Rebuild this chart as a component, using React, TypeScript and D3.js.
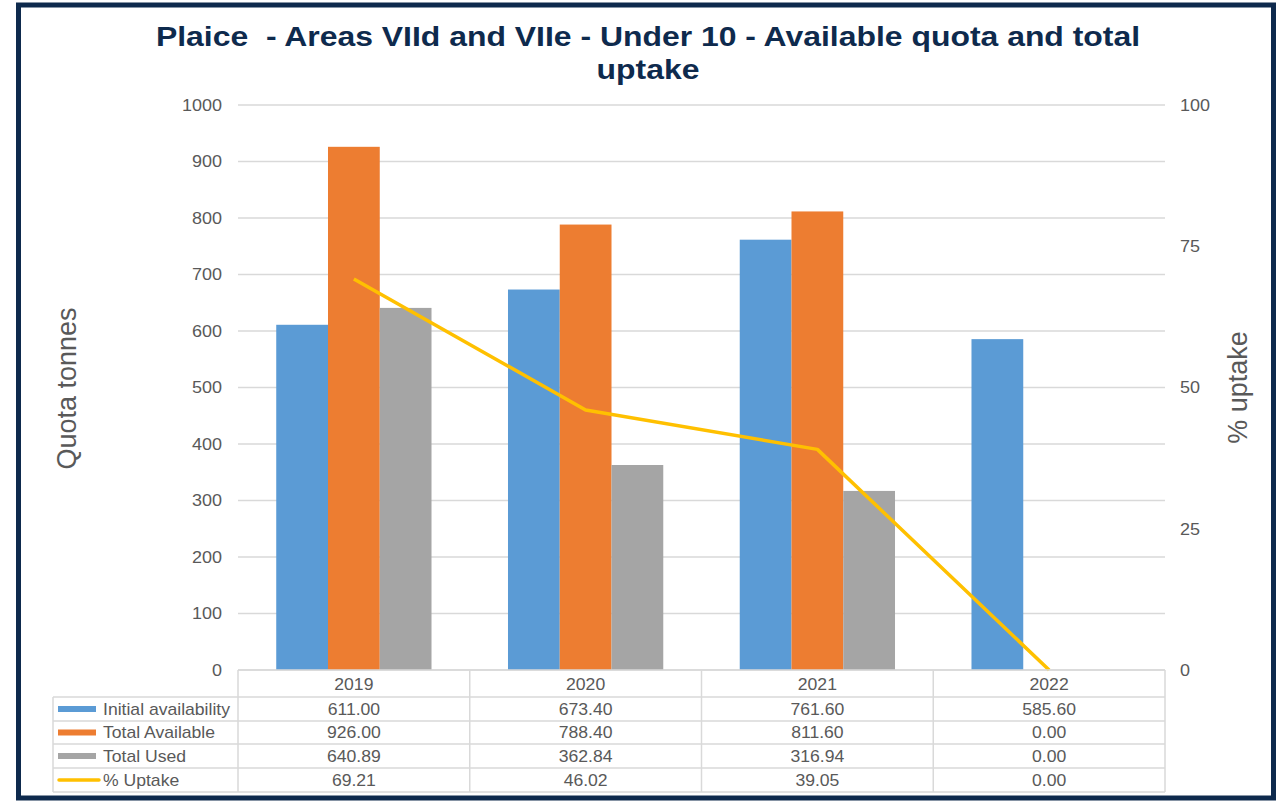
import React from "react";
import * as d3 from "d3";

const years = ["2019", "2020", "2021", "2022"];
const initialAvailability = [611.0, 673.4, 761.6, 585.6];
const totalAvailable = [926.0, 788.4, 811.6, 0.0];
const totalUsed = [640.89, 362.84, 316.94, 0.0];
const pctUptake = [69.21, 46.02, 39.05, 0.0];
const leftTicks = [0, 100, 200, 300, 400, 500, 600, 700, 800, 900, 1000];
const rightTicks = [0, 25, 50, 75, 100];
const seriesNames = ["Initial availability", "Total Available", "Total Used", "% Uptake"];
const seriesColors = ["#5B9BD5", "#ED7D31", "#A5A5A5", "#FFC000"];

function T(props: { x: number; y: number; sx?: number; anchor?: string; size: number; fill: string; weight?: string; children: any; dy?: string }) {
  const { x, y, sx = 1, anchor = "start", size, fill, weight = "normal", children, dy = "0.35em" } = props;
  return (
    <text transform={`translate(${x},${y}) scale(${sx},1)`} dy={dy} textAnchor={anchor} fontSize={size} fill={fill} fontWeight={weight} style={{ whiteSpace: "pre" }}>
      {children}
    </text>
  );
}

export default function App() {
  const W = 1276, H = 801;
  const plotL = 238, plotR = 1165, plotT = 105, plotB = 670;
  const legendL = 53;
  const rowYs = [670, 697, 721, 744, 768, 792];
  const font = "'Liberation Sans', Arial, sans-serif";
  const textGray = "#595959";
  const gridCol = "#D9D9D9";
  const navy = "#0E2A4D";
  const tsx = 1.1;

  const x = d3.scaleBand<string>().domain(years).range([plotL, plotR]).paddingInner(0).paddingOuter(0);
  const yL = d3.scaleLinear().domain([0, 1000]).range([plotB, plotT]);
  const yR = d3.scaleLinear().domain([0, 100]).range([plotB, plotT]);
  const barKeys = ["a", "b", "c"];
  const barSeries = [initialAvailability, totalAvailable, totalUsed];
  const groupW = x.bandwidth() * 0.67;
  const xi = d3.scaleBand<string>().domain(barKeys).range([0, groupW]).padding(0);

  const line = d3.line<number>()
    .x((_, i) => (x(years[i]) as number) + x.bandwidth() / 2)
    .y((d) => yR(d));

  const tableValues = [initialAvailability, totalAvailable, totalUsed, pctUptake];

  return (
    <svg width={W} height={H} style={{ position: "absolute", left: 0, top: 0, background: "#fff" }} fontFamily={font}>
      <rect x={0} y={0} width={W} height={H} fill="#fff" />
      <rect x={18.5} y={5} width={1255} height={793} fill="none" stroke={navy} strokeWidth={5} />

      <T x={648} y={46} dy="0" sx={1.14} anchor="middle" size={28} weight="bold" fill={navy}>
        Plaice  - Areas VIId and VIIe - Under 10 - Available quota and total
      </T>
      <T x={648} y={79} dy="0" sx={1.14} anchor="middle" size={28} weight="bold" fill={navy}>
        uptake
      </T>

      {leftTicks.map((t) => (
        <g key={"g" + t}>
          <line x1={plotL} x2={plotR} y1={yL(t)} y2={yL(t)} stroke={gridCol} strokeWidth={1.5} />
          <T x={222} y={yL(t)} sx={1.06} anchor="end" size={17} fill={textGray}>{t}</T>
        </g>
      ))}
      {rightTicks.map((t) => (
        <T key={"r" + t} x={1180} y={yR(t)} sx={1.06} anchor="start" size={17} fill={textGray}>{t}</T>
      ))}

      <text transform={`translate(76,${(plotT + plotB) / 2 + 1}) rotate(-90)`} textAnchor="middle" fontSize={27} fill={textGray}>Quota tonnes</text>
      <text transform={`translate(1247,${(plotT + plotB) / 2}) rotate(-90)`} textAnchor="middle" fontSize={27} fill={textGray}>% uptake</text>

      {years.map((yr, i) => {
        const gx = (x(yr) as number) + (x.bandwidth() - groupW) / 2;
        return (
          <g key={"bars" + yr}>
            {barSeries.map((s, k) => (
              s[i] > 0 ? (
                <rect key={k} x={gx + (xi(barKeys[k]) as number)} y={yL(s[i])} width={xi.bandwidth()} height={plotB - yL(s[i])} fill={seriesColors[k]} />
              ) : null
            ))}
          </g>
        );
      })}

      <path d={line(pctUptake) || ""} fill="none" stroke={seriesColors[3]} strokeWidth={3.5} strokeLinejoin="round" />

      {rowYs.map((ry, i) => (
        <line key={"h" + i} x1={i === 0 ? plotL : legendL} x2={plotR} y1={ry} y2={ry} stroke={gridCol} strokeWidth={1.5} />
      ))}
      <line x1={legendL} x2={legendL} y1={rowYs[1]} y2={rowYs[5]} stroke={gridCol} strokeWidth={1.5} />
      {[...years.map((yr) => x(yr) as number), plotR].map((vx, i) => (
        <line key={"v" + i} x1={vx} x2={vx} y1={rowYs[0]} y2={rowYs[5]} stroke={gridCol} strokeWidth={1.5} />
      ))}
      {years.map((yr) => (
        <T key={"cat" + yr} x={(x(yr) as number) + x.bandwidth() / 2} y={(rowYs[0] + rowYs[1]) / 2 + 1} sx={tsx} anchor="middle" size={16} fill={textGray}>{yr}</T>
      ))}
      {seriesNames.map((name, r) => {
        const cy = (rowYs[r + 1] + rowYs[r + 2]) / 2;
        return (
          <g key={"row" + r}>
            {r < 3 ? (
              <rect x={58} y={cy - 3} width={38} height={6} fill={seriesColors[r]} />
            ) : (
              <line x1={59} x2={99} y1={cy} y2={cy} stroke={seriesColors[r]} strokeWidth={3.5} strokeLinecap="round" />
            )}
            <T x={103} y={cy} sx={tsx} size={16} fill={textGray}>{name}</T>
            {tableValues[r].map((v, i) => (
              <T key={i} x={(x(years[i]) as number) + x.bandwidth() / 2} y={cy} sx={tsx} anchor="middle" size={16} fill={textGray}>{v.toFixed(2)}</T>
            ))}
          </g>
        );
      })}
    </svg>
  );
}
